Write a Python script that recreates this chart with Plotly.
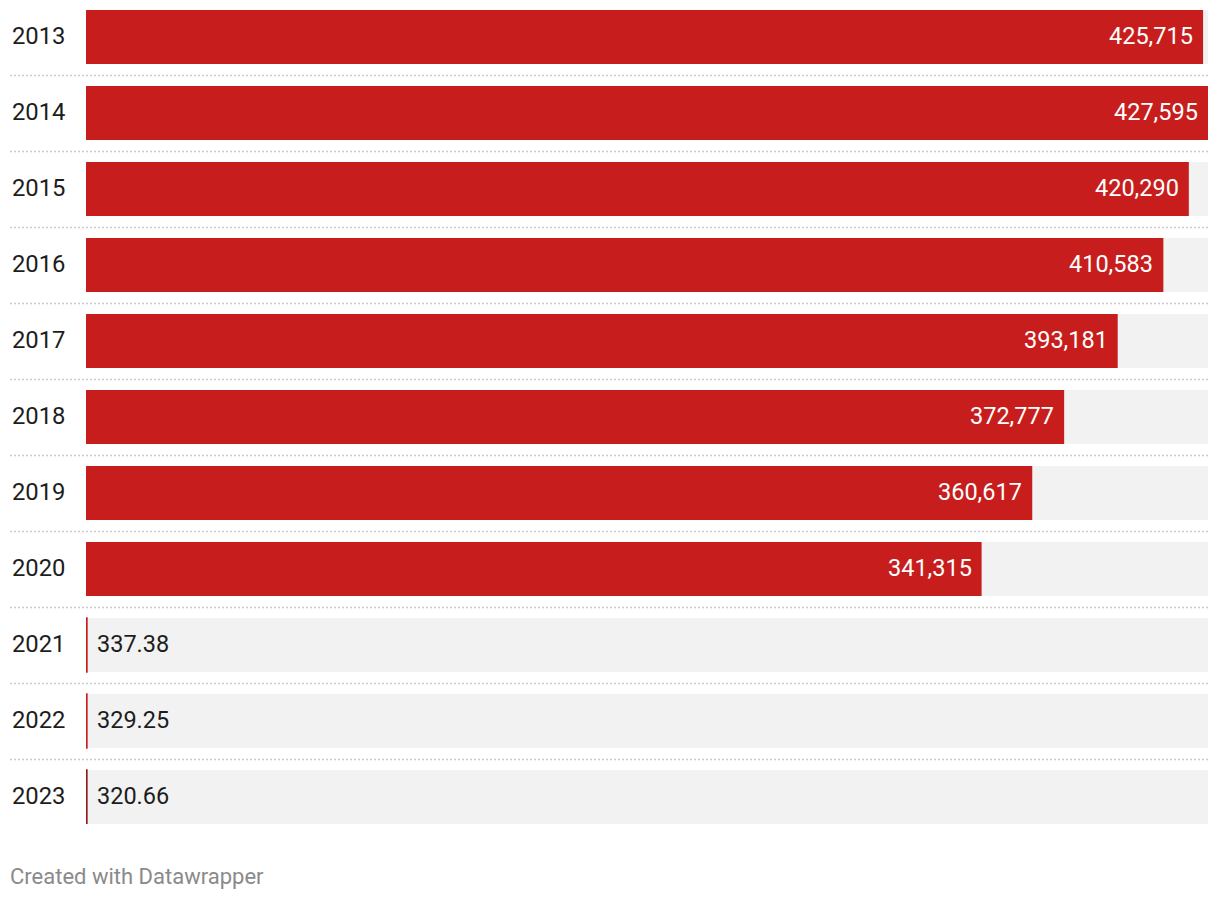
import plotly.graph_objects as go

years = ["2013", "2014", "2015", "2016", "2017", "2018", "2019", "2020", "2021", "2022", "2023"]
values = [425715, 427595, 420290, 410583, 393181, 372777, 360617, 341315, 337.38, 329.25, 320.66]
value_labels = ["425,715", "427,595", "420,290", "410,583", "393,181", "372,777",
                "360,617", "341,315", "337.38", "329.25", "320.66"]

RED = "#c71e1d"
DARK_RED = "#8e1b17"
BG = "#f2f2f2"
TEXT = "#1d1d1d"

n = len(years)
ypos = list(range(n))
xmax = max(values)

# left margin 86, right edge 1208, top 10, bottom 824
L, R, T, B = 86, 1220 - 1208, 10, 900 - 824
plot_w = 1220 - L - R
plot_h = 900 - T - B
row_px = 76.0
bar_px = 54.0
bw = bar_px / row_px
half = bar_px / 2 / row_px

fig = go.Figure()
fig.add_trace(go.Bar(
    y=ypos, x=[xmax] * n, orientation="h", width=bw,
    marker=dict(color=BG, line=dict(width=0)), hoverinfo="skip", showlegend=False,
))
small = [v < xmax * 0.02 for v in values]
colors = [RED] * n
colors[-1] = DARK_RED
fig.add_trace(go.Bar(
    y=ypos, x=values, orientation="h", width=bw,
    marker=dict(color=colors,
                line=dict(width=[1.6 if s else 0 for s in small], color=colors)),
    showlegend=False,
))

font_family = "Roboto, sans-serif"
annotations = []
for i, (yr, v, lab, s) in enumerate(zip(years, values, value_labels, small)):
    annotations.append(dict(
        x=(10 - L) / plot_w, xref="paper", y=i, yref="y", text=yr, showarrow=False,
        xanchor="left", yanchor="middle", yshift=1,
        font=dict(family=font_family, size=23.8, color=TEXT),
    ))
    if s:
        annotations.append(dict(
            x=v, xref="x", y=i, yref="y", text=lab, showarrow=False,
            xanchor="left", yanchor="middle", xshift=8, yshift=1,
            font=dict(family=font_family, size=23.5, color=TEXT),
        ))
    else:
        annotations.append(dict(
            x=v, xref="x", y=i, yref="y", text=lab, showarrow=False,
            xanchor="right", yanchor="middle", xshift=-8, yshift=1,
            font=dict(family=font_family, size=23.5, color="#ffffff"),
        ))

annotations.append(dict(
    x=(8 - L) / plot_w, xref="paper", y=-(877 - 824) / plot_h, yref="paper",
    text="Created with Datawrapper", showarrow=False, xanchor="left", yanchor="middle",
    font=dict(family=font_family, size=22, color="#8a8a8a"),
))

shapes = []
for i in range(n - 1):
    shapes.append(dict(
        type="line", xref="paper", yref="y",
        x0=(10 - L) / plot_w, x1=1, y0=i + 0.5 + 0.5 / row_px, y1=i + 0.5 + 0.5 / row_px,
        line=dict(color="#cccccc", width=1.5, dash="2px,2px"),
    ))

fig.update_layout(
    width=1220, height=900,
    margin=dict(l=L, r=R, t=T, b=B),
    paper_bgcolor="white", plot_bgcolor="white",
    barmode="overlay",
    xaxis=dict(range=[0, xmax], visible=False, fixedrange=True),
    yaxis=dict(range=[n - 1 + half, -half], visible=False, fixedrange=True),
    annotations=annotations, shapes=shapes,
    font=dict(family=font_family),
)

fig.write_html(
    "out.html",
    config={"displayModeBar": False},
    post_script="document.body.style.margin='0';document.body.style.padding='0';",
)
